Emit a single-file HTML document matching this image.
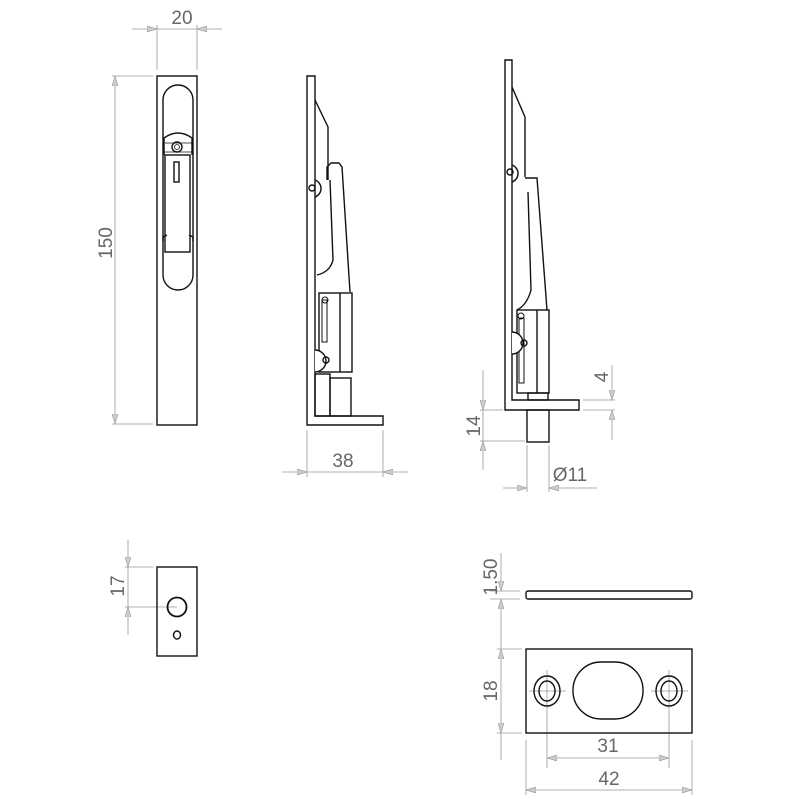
<!DOCTYPE html>
<html><head><style>body{margin:0;background:#fff}svg{display:block}text{font-family:"Liberation Sans",sans-serif;font-size:19px;fill:#666}</style></head>
<body>
<svg width="800" height="800" viewBox="0 0 800 800" xmlns="http://www.w3.org/2000/svg">
<defs>
<marker id="a" viewBox="0 0 10 6" refX="10" refY="3" markerWidth="10" markerHeight="6" orient="auto-start-reverse" markerUnits="userSpaceOnUse"><path d="M0,0 L10,3 L0,6 z" fill="#ccc" stroke="#999" stroke-width="0.6"/></marker>
</defs>
<g stroke="#999" stroke-width="0.8" fill="none">
<!-- 20 -->
<line x1="157" y1="25" x2="157" y2="70"/><line x1="197" y1="25" x2="197" y2="70"/>
<line x1="132" y1="29" x2="157" y2="29" marker-end="url(#a)"/><line x1="222" y1="29" x2="197" y2="29" marker-end="url(#a)"/>
<line x1="157" y1="29" x2="197" y2="29"/>
<!-- 150 -->
<line x1="112" y1="76" x2="153" y2="76"/><line x1="112" y1="424" x2="153" y2="424"/>
<line x1="115" y1="76" x2="115" y2="424" marker-start="url(#a)" marker-end="url(#a)"/>
<!-- 38 -->
<line x1="307" y1="430" x2="307" y2="477"/><line x1="383" y1="430" x2="383" y2="477"/>
<line x1="282" y1="472" x2="307" y2="472" marker-end="url(#a)"/><line x1="408" y1="472" x2="383" y2="472" marker-end="url(#a)"/>
<line x1="307" y1="472" x2="383" y2="472"/>
<!-- 14 -->
<line x1="480" y1="410" x2="503" y2="410"/><line x1="480" y1="441" x2="525" y2="441"/>
<line x1="483" y1="370" x2="483" y2="410" marker-end="url(#a)"/><line x1="483" y1="470" x2="483" y2="441" marker-end="url(#a)"/>
<line x1="483" y1="410" x2="483" y2="441"/>
<!-- 4 -->
<line x1="583" y1="400" x2="615" y2="400"/><line x1="583" y1="410" x2="615" y2="410"/>
<line x1="612" y1="365" x2="612" y2="400" marker-end="url(#a)"/><line x1="612" y1="440" x2="612" y2="410" marker-end="url(#a)"/>
<!-- 11 -->
<line x1="527" y1="445" x2="527" y2="492"/><line x1="549" y1="445" x2="549" y2="492"/>
<line x1="503" y1="488" x2="527" y2="488" marker-end="url(#a)"/><line x1="597" y1="488" x2="549" y2="488" marker-end="url(#a)"/>
<!-- 17 -->
<line x1="125" y1="567" x2="153" y2="567"/><line x1="125" y1="607" x2="177" y2="607"/>
<line x1="128" y1="540" x2="128" y2="567" marker-end="url(#a)"/><line x1="128" y1="635" x2="128" y2="607" marker-end="url(#a)"/>
<line x1="128" y1="567" x2="128" y2="607"/>
<!-- 1.50 -->
<line x1="490" y1="591" x2="520" y2="591"/><line x1="490" y1="599" x2="520" y2="599"/>
<line x1="501" y1="553" x2="501" y2="591" marker-end="url(#a)"/><line x1="501" y1="640" x2="501" y2="599" marker-end="url(#a)"/>
<!-- 18 -->
<line x1="497" y1="649" x2="522" y2="649"/><line x1="497" y1="733" x2="522" y2="733"/>
<line x1="501" y1="640" x2="501" y2="649"/>
<line x1="501" y1="649" x2="501" y2="733" marker-start="url(#a)" marker-end="url(#a)"/>
<line x1="501" y1="733" x2="501" y2="760"/>
<!-- 31 -->
<line x1="547" y1="713" x2="547" y2="768"/><line x1="669" y1="713" x2="669" y2="768"/>
<line x1="547" y1="758" x2="669" y2="758" marker-start="url(#a)" marker-end="url(#a)"/>
<!-- 42 -->
<line x1="526" y1="740" x2="526" y2="795"/><line x1="692" y1="740" x2="692" y2="795"/>
<line x1="526" y1="790" x2="692" y2="790" marker-start="url(#a)" marker-end="url(#a)"/>
<!-- crosshairs -->
<line x1="529" y1="691" x2="566" y2="691"/><line x1="547" y1="670" x2="547" y2="713"/>
<line x1="651" y1="691" x2="688" y2="691"/><line x1="669" y1="670" x2="669" y2="713"/>
</g>
<g fill="none" stroke="#111" stroke-width="1.4">
<!-- front view -->
<rect x="157" y="76" width="40" height="349"/>
<path d="M163,100 A15,15 0 0 1 193,100 L193,275 A15,15 0 0 1 163,275 Z"/>
<path d="M164,155 L164,138 Q178,128 192,138 L192,155"/>
<line x1="164" y1="143" x2="192" y2="143" stroke-width="0.8"/><line x1="164" y1="152" x2="192" y2="152" stroke-width="0.8"/>
<circle cx="177" cy="147" r="5"/><circle cx="177" cy="147" r="2.5" stroke-width="0.8"/>
<rect x="165" y="155" width="25" height="97" fill="#fff"/>
<rect x="174" y="162" width="5" height="20"/>
<path d="M163,241 L163,237 L167,235 M193,241 L193,237 L189,235"/>
<!-- side view 1 -->
<path d="M307,76 L315,76 L315,416 L383,416 L383,425 L307,425 Z"/>
<path d="M315,100 L328,127 L328,180"/>
<path d="M315,180 A9,9 0 0 1 315,197"/><circle cx="312" cy="188" r="3"/>
<path d="M327,180 L327,167 L331,163 L339,163 L342,167 L350,292"/>
<path d="M330,180 L333,260 Q330,272 317,275"/>
<rect x="319" y="293" width="33" height="79"/>
<line x1="340" y1="293" x2="340" y2="372"/>
<rect x="322" y="300" width="5" height="42" stroke-width="1"/>
<circle cx="325" cy="300" r="3" stroke-width="1"/>
<path d="M315,350 A11,11 0 0 1 315,372" fill="#fff"/><circle cx="326" cy="360" r="3"/>
<rect x="315" y="374" width="15" height="42"/>
<rect x="330" y="378" width="21" height="38"/>
<!-- side view 2 -->
<path d="M505,60 L512,60 L512,400 L579,400 L579,410 L505,410 Z"/>
<path d="M512,87 L525,117 L525,177"/>
<path d="M512,165 A9,9 0 0 1 512,182"/><circle cx="510" cy="172" r="3"/>
<path d="M525,178 L537,178 L547,310"/>
<path d="M528,192 L531,290 Q527,305 517,310"/>
<rect x="517" y="310" width="32" height="83"/>
<line x1="537" y1="310" x2="537" y2="393"/>
<rect x="519" y="318" width="5" height="65" stroke-width="1"/>
<circle cx="521" cy="316" r="3" stroke-width="1"/>
<path d="M512,332 A11,11 0 0 1 512,354" fill="#fff"/><circle cx="524" cy="343" r="3"/>
<rect x="528" y="393" width="20" height="7"/>
<rect x="527" y="410" width="22" height="32"/>
<!-- bottom left -->
<rect x="157" y="567" width="40" height="89"/>
<circle cx="177" cy="607" r="9.5" stroke-width="1.8"/>
<ellipse cx="177" cy="635" rx="3.5" ry="4"/>
<!-- bottom right -->
<rect x="526" y="591" width="166" height="8" rx="2"/>
<rect x="526" y="649" width="166" height="84"/>
<rect x="573" y="662" width="70" height="57" rx="28" ry="28"/>
<ellipse cx="547" cy="691" rx="13" ry="15"/><ellipse cx="547" cy="691" rx="8" ry="10"/>
<ellipse cx="669" cy="691" rx="13" ry="15"/><ellipse cx="669" cy="691" rx="8" ry="10"/>
</g>
<text x="182" y="24" text-anchor="middle">20</text>
<text transform="translate(112,243) rotate(-90)" text-anchor="middle">150</text>
<text x="343" y="467" text-anchor="middle">38</text>
<text transform="translate(480,426) rotate(-90)" text-anchor="middle">14</text>
<text transform="translate(608,377) rotate(-90)" text-anchor="middle">4</text>
<text x="570" y="481" text-anchor="middle">Ø11</text>
<text transform="translate(124,586) rotate(-90)" text-anchor="middle">17</text>
<text transform="translate(497,577) rotate(-90)" text-anchor="middle">1.50</text>
<text transform="translate(497,691) rotate(-90)" text-anchor="middle">18</text>
<text x="608" y="752" text-anchor="middle">31</text>
<text x="609" y="785" text-anchor="middle">42</text>
</svg>
</body></html>
